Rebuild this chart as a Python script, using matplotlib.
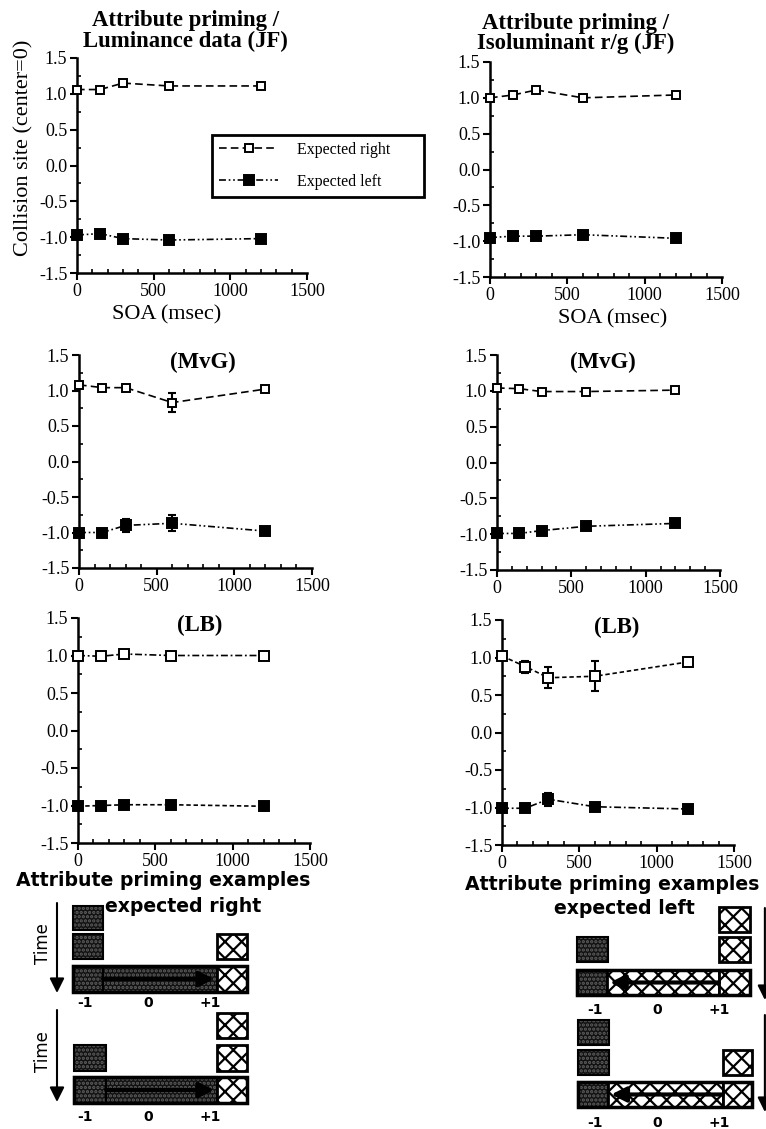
import numpy as np
import matplotlib
matplotlib.use("Agg")
import matplotlib.pyplot as plt
from matplotlib.patches import Rectangle
from matplotlib.ticker import MultipleLocator

plt.rcParams['font.family'] = ['Liberation Serif', 'DejaVu Serif']
plt.rcParams['lines.scale_dashes'] = False
plt.rcParams['hatch.linewidth'] = 1.6

W, H = 766, 1129

# ---- data ----
soa = [0, 150, 300, 600, 1200]

lum_jf_right = [1.06, 1.06, 1.15, 1.11, 1.11]
lum_jf_left = [-0.97, -0.95, -1.02, -1.04, -1.02]
iso_jf_right = [1.00, 1.04, 1.11, 1.00, 1.04]
iso_jf_left = [-0.95, -0.93, -0.93, -0.91, -0.96]

lum_mvg_right = [1.08, 1.04, 1.04, 0.83, 1.02]
lum_mvg_right_err = [0, 0, 0, 0.13, 0]
lum_mvg_left = [-1.00, -1.00, -0.90, -0.87, -0.98]
lum_mvg_left_err = [0, 0, 0.09, 0.11, 0]
iso_mvg_right = [1.04, 1.03, 0.99, 0.99, 1.01]
iso_mvg_left = [-0.99, -0.99, -0.95, -0.89, -0.85]
iso_mvg_left_err = [0, 0, 0, 0, 0.04]

lum_lb_right = [1.00, 0.99, 1.02, 1.00, 1.00]
lum_lb_left = [-1.01, -1.00, -0.99, -0.99, -1.01]
iso_lb_right = [1.02, 0.88, 0.73, 0.75, 0.94]
iso_lb_right_err = [0, 0.08, 0.14, 0.20, 0.05]
iso_lb_left = [-1.01, -1.01, -0.89, -0.99, -1.02]
iso_lb_left_err = [0, 0, 0.09, 0, 0]

pos_ticks = [-1, 0, 1]
pos_labels = ['-1', '0', '+1']

# schematic frames (kind, from, to) in stimulus position units
exp_right_a = [[('dark', -1.2, -0.72)],
               [('dark', -1.2, -0.72), ('cross', 1.1, 1.58)],
               [('dark', -1.2, -0.72), ('dark', -0.72, 1.1), ('cross', 1.1, 1.58)]]
exp_right_b = [[('cross', 1.1, 1.58)],
               [('dark', -1.18, -0.67), ('cross', 1.1, 1.58)],
               [('dark', -1.18, -0.67), ('dark', -0.67, 1.1), ('cross', 1.1, 1.58)]]
exp_left_a = [[('cross', 1.0, 1.5)],
              [('dark', -1.29, -0.79), ('cross', 1.0, 1.5)],
              [('dark', -1.29, -0.81), ('cross', -0.81, 1.0), ('cross', 1.0, 1.5)]]
exp_left_b = [[('dark', -1.27, -0.77)],
              [('dark', -1.27, -0.77), ('cross', 1.06, 1.53)],
              [('dark', -1.27, -0.79), ('cross', -0.79, 1.06), ('cross', 1.06, 1.53)]]

fig = plt.figure(figsize=(W / 100, H / 100), dpi=100)


def px_axes(x0, x1, y0, y1):
    return fig.add_axes([x0 / W, 1 - y1 / H, (x1 - x0) / W, (y1 - y0) / H])


def style(ax):
    ax.set_xlim(0, 1500)
    ax.set_ylim(-1.5, 1.5)
    for s in ['top', 'right']:
        ax.spines[s].set_visible(False)
    for s in ['left', 'bottom']:
        ax.spines[s].set_linewidth(1.8)
    ax.xaxis.set_major_locator(MultipleLocator(500))
    ax.xaxis.set_minor_locator(MultipleLocator(100))
    ax.yaxis.set_major_locator(MultipleLocator(0.5))
    ax.yaxis.set_minor_locator(MultipleLocator(0.25))
    ax.yaxis.set_major_formatter(matplotlib.ticker.FormatStrFormatter('%.1f'))
    ax.tick_params(which='major', direction='out', length=5, width=1.5, labelsize=13, pad=2)
    ax.tick_params(which='minor', direction='in', length=3, width=1.2)


def series(ax, y, filled, dashes, ms, err=None):
    line, = ax.plot(soa, y, color='black', lw=1.2, dashes=dashes, marker='s', ms=ms,
                    mfc='black' if filled else 'white', mec='black', mew=1.4,
                    clip_on=False, zorder=3)
    if err is not None:
        e = np.array(err)
        m = e > 0
        ax.errorbar(np.array(soa)[m], np.array(y)[m], yerr=e[m], fmt='none', ecolor='black',
                    elinewidth=1.5, capsize=3, capthick=1.5, zorder=2)
    return line


long_dash = (5.5, 3)
dash_dot2 = (5, 2, 1.2, 2, 1.2, 2)
short_dash = (3.2, 2)
dash_dot = (5, 2, 1.3, 2)

# top row
ax1 = px_axes(77, 307, 58, 273)
style(ax1)
h_r = series(ax1, lum_jf_right, False, long_dash, 5.5)
h_l = series(ax1, lum_jf_left, True, dash_dot2, 6.5)
ax1.text(0.47, 1.03, 'Attribute priming /\nLuminance data (JF)', transform=ax1.transAxes,
         ha='center', va='bottom', fontsize=16.4, fontweight='bold', linespacing=0.95)
ax1.set_xlabel('SOA (msec)', fontsize=16, labelpad=4, x=0.39)
ax1.set_ylabel('Collision site (center=0)', fontsize=16, labelpad=4, y=0.58)
ax1.legend([h_r, h_l], ['Expected right', 'Expected left'], loc='center', mode='expand',
           bbox_to_anchor=(212 / W, 1 - 198 / H, 212 / W, 64 / H), bbox_transform=fig.transFigure,
           fontsize=11.5, handlelength=3.7, handletextpad=1.2, labelspacing=1.0, borderpad=0.45,
           numpoints=1, fancybox=False, framealpha=1, edgecolor='black', borderaxespad=0
           ).get_frame().set_linewidth(2)

ax2 = px_axes(490, 722, 62, 277)
style(ax2)
series(ax2, iso_jf_right, False, long_dash, 5.5)
series(ax2, iso_jf_left, True, dash_dot2, 6.5)
ax2.text(0.37, 1.035, 'Attribute priming /\nIsoluminant r/g (JF)', transform=ax2.transAxes,
         ha='center', va='bottom', fontsize=16.4, fontweight='bold', linespacing=0.95)
ax2.set_xlabel('SOA (msec)', fontsize=16, labelpad=4, x=0.53)

# middle row
ax3 = px_axes(79, 312, 355, 568)
style(ax3)
series(ax3, lum_mvg_right, False, long_dash, 5.5, lum_mvg_right_err)
series(ax3, lum_mvg_left, True, dash_dot2, 6.5, lum_mvg_left_err)
ax3.text(0.53, 0.965, '(MvG)', transform=ax3.transAxes, ha='center', va='center',
         fontsize=16.4, fontweight='bold')

ax4 = px_axes(497, 720, 355, 570)
style(ax4)
series(ax4, iso_mvg_right, False, long_dash, 5.5)
series(ax4, iso_mvg_left, True, dash_dot2, 6.5, iso_mvg_left_err)
ax4.text(0.475, 0.965, '(MvG)', transform=ax4.transAxes, ha='center', va='center',
         fontsize=16.4, fontweight='bold')

# bottom row
ax5 = px_axes(78, 310, 618, 843)
style(ax5)
series(ax5, lum_lb_right, False, dash_dot, 7)
series(ax5, lum_lb_left, True, short_dash, 7)
ax5.text(0.526, 0.965, '(LB)', transform=ax5.transAxes, ha='center', va='center',
         fontsize=16.4, fontweight='bold')

ax6 = px_axes(502, 734, 620, 845)
style(ax6)
series(ax6, iso_lb_right, False, short_dash, 7, iso_lb_right_err)
series(ax6, iso_lb_left, True, dash_dot, 7, iso_lb_left_err)
ax6.text(0.496, 0.965, '(LB)', transform=ax6.transAxes, ha='center', va='center',
         fontsize=16.4, fontweight='bold')


# ---- schematic examples ----
def diagram(x0, x1, center, unit):
    ax = px_axes(x0, x1, 840, H)
    ax.set_xlim((x0 - center) / unit, (x1 - center) / unit)
    ax.set_ylim(H, 840)
    ax.axis('off')
    return ax


def draw_frames(ax, frames, rows, label_y, arrow):
    for items, (top, bot) in zip(frames, rows):
        for kind, a, b in items:
            if kind == 'dark':
                ax.add_patch(Rectangle((a, top), b - a, bot - top, facecolor='#121212',
                                       edgecolor='#5e5e5e', hatch='....', lw=0))
                ax.add_patch(Rectangle((a, top), b - a, bot - top, fill=False,
                                       edgecolor='black', lw=1.5))
            else:
                ax.add_patch(Rectangle((a, top), b - a, bot - top, facecolor='white',
                                       edgecolor='black', hatch='xx', lw=2))
        if len(items) > 2:
            ax.add_patch(Rectangle((items[0][1], top), items[-1][2] - items[0][1], bot - top,
                                   fill=False, edgecolor='black', lw=2.5))
    top, bot = rows[-1]
    ax.annotate('', xy=(arrow[1], (top + bot) / 2), xytext=(arrow[0], (top + bot) / 2),
                arrowprops=dict(arrowstyle='-|>', lw=3, color='black', mutation_scale=22,
                                shrinkA=0, shrinkB=0))
    for p, lab in zip(pos_ticks, pos_labels):
        ax.text(p, label_y, lab, ha='center', va='center', fontsize=10, fontweight='bold',
                family='DejaVu Sans')


def time_arrow(ax, x, y0, y1, label_x=None):
    ax.annotate('', xy=(x, y1), xytext=(x, y0),
                arrowprops=dict(arrowstyle='-|>', lw=1.5, color='black', mutation_scale=22,
                                shrinkA=0, shrinkB=0), annotation_clip=False)
    if label_x is not None:
        ax.text(label_x, (y0 + y1) / 2 - 4, 'Time', rotation=90, ha='center', va='center',
                fontsize=12, family='DejaVu Sans')


axl = diagram(0, 383, 148, 62.5)
axl.text(0.24, 880, 'Attribute priming examples', ha='center', va='center', fontsize=13.6,
         fontweight='bold', family='DejaVu Sans')
axl.text(0.56, 906, 'expected right', ha='center', va='center', fontsize=13.6,
         fontweight='bold', family='DejaVu Sans')
draw_frames(axl, exp_right_a, [(906, 930), (934, 959), (966, 992)], 1003, (-0.72, 1.06))
draw_frames(axl, exp_right_b, [(1013, 1038), (1045, 1071), (1077, 1103)], 1117, (-0.67, 1.06))
time_arrow(axl, -1.456, 903, 993, -1.68)
time_arrow(axl, -1.456, 1010, 1102, -1.68)

axr = diagram(383, 766, 657, 62)
axr.text(-0.73, 885, 'Attribute priming examples', ha='center', va='center', fontsize=13.6,
         fontweight='bold', family='DejaVu Sans')
axr.text(-0.52, 908, 'expected left', ha='center', va='center', fontsize=13.6,
         fontweight='bold', family='DejaVu Sans')
draw_frames(axr, exp_left_a, [(907, 932), (937, 962), (970, 995)], 1010, (1.0, -0.76))
draw_frames(axr, exp_left_b, [(1020, 1045), (1050, 1075), (1082, 1107)], 1123, (1.06, -0.74))
time_arrow(axr, 1.74, 908, 1000)
time_arrow(axr, 1.74, 1015, 1112)

fig.savefig('out.png', dpi=100)
